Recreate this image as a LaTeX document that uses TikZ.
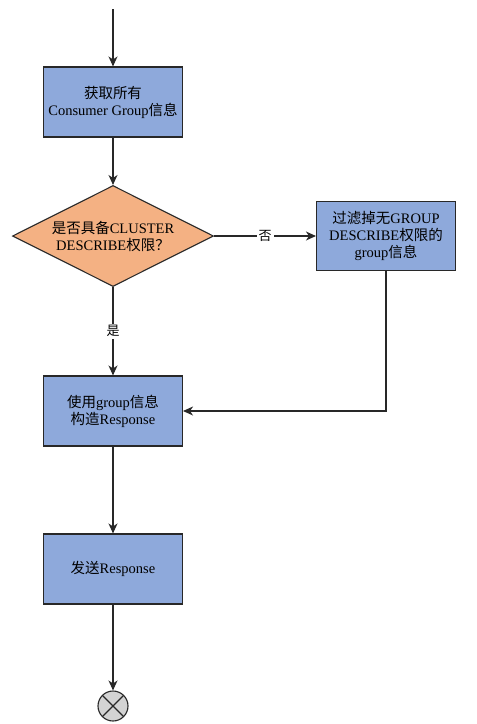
\documentclass[tikz,border=0pt]{standalone}
\usepackage{fontspec}
\setmainfont{Liberation Serif}
\newfontfamily\cjk{Noto Sans CJK SC}
\usetikzlibrary{shapes.geometric,arrows.meta}
\definecolor{boxblue}{RGB}{142,169,219}
\definecolor{decor}{RGB}{244,177,131}
\definecolor{edgec}{RGB}{40,40,40}
\definecolor{endgray}{RGB}{211,211,211}
\tikzset{
  procbox/.style={draw=edgec, line width=1.1pt, fill=boxblue, minimum width=139pt, minimum height=70pt, inner sep=2pt, align=center, font=\fontsize{14.5pt}{17pt}\selectfont},
  decbox/.style={draw=edgec, line width=1.1pt, fill=decor, diamond, minimum width=201pt, minimum height=101pt, inner sep=0pt},
  conn/.style={draw=edgec, line width=1.1pt, -{Stealth[length=10pt,width=9pt,inset=3pt]}},
  elabel/.style={fill=white, inner sep=2pt, font=\fontsize{13pt}{15pt}\selectfont},
  endnode/.style={circle, draw=edgec, line width=1.1pt, fill=endgray, minimum size=30pt, inner sep=0pt,
    path picture={\draw[edgec, line width=1.1pt] (path picture bounding box.north west) -- (path picture bounding box.south east) (path picture bounding box.north east) -- (path picture bounding box.south west);}}
}
\begin{document}
\begin{tikzpicture}[x=1pt,y=-1pt]
\useasboundingbox (0,0) rectangle (477,724);
\coordinate (start) at (113,9);
\node[procbox] (b1) at (113,102) {{\cjk 获取所有}\\Consumer Group{\cjk 信息}};
\node[decbox] (d) at (113,236) {};
\node[align=center, font=\fontsize{14.5pt}{17pt}\selectfont] (dt) at (d) {{\cjk 是否具备}CLUSTER\\DESCRIBE{\cjk 权限？}};
\node[procbox, minimum height=69pt] (b2) at (386,236) {{\cjk 过滤掉无}GROUP\\DESCRIBE{\cjk 权限的}\\group{\cjk 信息}};
\node[procbox] (b3) at (113,411) {{\cjk 使用}group{\cjk 信息}\\{\cjk 构造}Response};
\node[procbox] (b4) at (113,569) {{\cjk 发送}Response};
\node[endnode] (e) at (113,706) {};
\coordinate (bend) at (b2.south |- b3.east);
\draw[conn] (start) -- (b1.north);
\draw[conn] (b1.south) -- (d.north);
\draw[conn] (d.east) -- node[elabel] (no) {\cjk 否} (b2.west);
\draw[conn] (d.south) -- node[elabel] (yes) {\cjk 是} (b3.north);
\draw[conn] (b2.south) -- (bend) -- (b3.east);
\draw[conn] (b3.south) -- (b4.north);
\draw[conn] (b4.south) -- (e.north);
\end{tikzpicture}
\end{document}
